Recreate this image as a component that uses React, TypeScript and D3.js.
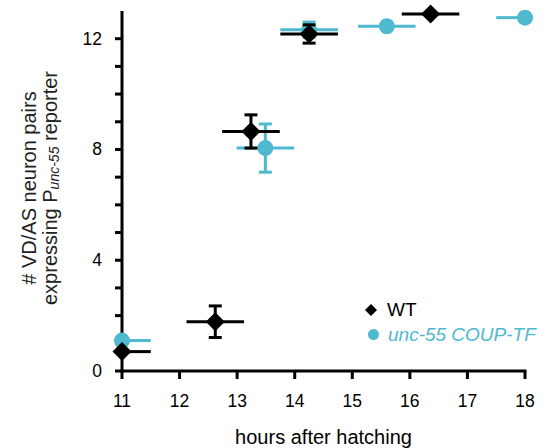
import React, { useEffect, useRef } from "react";
import * as d3 from "d3";

// hours after hatching / # VD/AS neuron pairs
const wtHours = [11.0, 12.62, 13.24, 14.25, 16.36];
const wtPairs = [0.7, 1.78, 8.65, 12.17, 12.89];
const wtHourErr = [0.5, 0.5, 0.5, 0.5, 0.5];
const wtPairErr = [0, 0.57, 0.6, 0.33, 0];

const mutHours = [11.0, 13.49, 14.25, 15.6, 18.0];
const mutPairs = [1.1, 8.05, 12.32, 12.45, 12.76];
const mutHourErr = [0.5, 0.5, 0.5, 0.5, 0.5];
const mutPairErr = [0, 0.87, 0.28, 0, 0];

const xTicks = [11, 12, 13, 14, 15, 16, 17, 18];
const yTicks = [0, 1, 2, 3, 4, 5, 6, 7, 8, 9, 10, 11, 12];
const yLabels = [0, 4, 8, 12];

const BLUE = "#4fb9cf";
const FONT = "'Liberation Sans', Arial, sans-serif";

const App: React.FC = () => {
  const svgRef = useRef<SVGSVGElement>(null);

  useEffect(() => {
    if (!svgRef.current) return;
    const svg = d3.select(svgRef.current);
    svg.selectAll("*").remove();

    const x = d3.scaleLinear().domain([11, 18]).range([122, 525]);
    const y = d3.scaleLinear().domain([0, 13]).range([371, 11]);

    // axes
    const axis = svg.append("g").attr("stroke", "#000").attr("stroke-width", 3);
    axis.append("line").attr("x1", x(11)).attr("x2", x(11)).attr("y1", y(13)).attr("y2", y(0) + 1.5);
    axis.append("line").attr("x1", x(11) - 1.5).attr("x2", x(18) + 1.5).attr("y1", y(0)).attr("y2", y(0));
    axis.selectAll(".yt").data(yTicks).enter().append("line")
      .attr("x1", x(11) - 7).attr("x2", x(11)).attr("y1", (d) => y(d)).attr("y2", (d) => y(d));
    axis.selectAll(".xt").data(xTicks).enter().append("line")
      .attr("x1", (d) => x(d)).attr("x2", (d) => x(d)).attr("y1", y(0)).attr("y2", y(0) + 8);

    svg.selectAll(".ytl").data(yLabels).enter().append("text")
      .attr("x", x(11) - 20).attr("y", (d) => y(d) + 6)
      .attr("text-anchor", "end").style("font-family", FONT).style("font-size", "17.5px")
      .text((d) => d);
    svg.selectAll(".xtl").data(xTicks).enter().append("text")
      .attr("x", (d) => x(d)).attr("y", 407)
      .attr("text-anchor", "middle").style("font-family", FONT).style("font-size", "17.5px")
      .text((d) => d);

    // axis titles
    svg.append("text")
      .attr("x", (x(11) + x(18)) / 2).attr("y", 444)
      .attr("text-anchor", "middle").style("font-family", FONT).style("font-size", "20px")
      .text("hours after hatching");

    const yt = svg.append("g").attr("transform", "translate(0,188) rotate(-90)")
      .style("font-family", FONT).style("font-size", "20px").attr("fill", "#222");
    yt.append("text").attr("x", 0).attr("y", 36).attr("text-anchor", "middle").text("# VD/AS neuron pairs");
    const l2 = yt.append("text").attr("x", 0).attr("y", 57).attr("text-anchor", "middle");
    l2.append("tspan").text("expressing P");
    l2.append("tspan").attr("dy", 2).style("font-size", "14px").style("font-style", "italic").text("unc-55");
    l2.append("tspan").attr("dy", -2).text(" reporter");

    const drawSeries = (
      hours: number[], pairs: number[], hErr: number[], pErr: number[],
      color: string, marker: "diamond" | "circle"
    ) => {
      const g = svg.append("g");
      hours.forEach((h, i) => {
        const cx = x(h);
        const cy = y(pairs[i]);
        const lo = x(Math.max(11, h - hErr[i]));
        const hi = x(Math.min(18, h + hErr[i]));
        g.append("line").attr("x1", lo).attr("x2", hi).attr("y1", cy).attr("y2", cy)
          .attr("stroke", color).attr("stroke-width", 3);
        if (pErr[i] > 0) {
          const top = y(pairs[i] + pErr[i]);
          const bot = y(pairs[i] - pErr[i]);
          g.append("line").attr("x1", cx).attr("x2", cx).attr("y1", top).attr("y2", bot)
            .attr("stroke", color).attr("stroke-width", 3);
          [top, bot].forEach((yy) =>
            g.append("line").attr("x1", cx - 6.5).attr("x2", cx + 6.5).attr("y1", yy).attr("y2", yy)
              .attr("stroke", color).attr("stroke-width", 3)
          );
        }
        if (marker === "circle") {
          g.append("circle").attr("cx", cx).attr("cy", cy).attr("r", 8).attr("fill", color);
        } else {
          g.append("path").attr("transform", `translate(${cx},${cy})`)
            .attr("d", "M0,-9.5L9.5,0L0,9.5L-9.5,0Z").attr("fill", color);
        }
      });
    };

    drawSeries(mutHours, mutPairs, mutHourErr, mutPairErr, BLUE, "circle");
    drawSeries(wtHours, wtPairs, wtHourErr, wtPairErr, "#000", "diamond");

    // legend
    svg.append("path").attr("transform", "translate(371,310)").attr("d", "M0,-6L6,0L0,6L-6,0Z").attr("fill", "#000");
    svg.append("text").attr("x", 387).attr("y", 316).style("font-family", FONT).style("font-size", "19px")
      .text("WT");
    svg.append("circle").attr("cx", 373.5).attr("cy", 334.5).attr("r", 5.5).attr("fill", BLUE);
    svg.append("text").attr("x", 388).attr("y", 341).style("font-family", FONT).style("font-size", "19px")
      .style("font-style", "italic").attr("fill", BLUE).text("unc-55 COUP-TF");
  }, []);

  return (
    <svg
      ref={svgRef}
      width={552}
      height={448}
      style={{ position: "absolute", left: 0, top: 0, background: "#fff" }}
    />
  );
};

export default App;
